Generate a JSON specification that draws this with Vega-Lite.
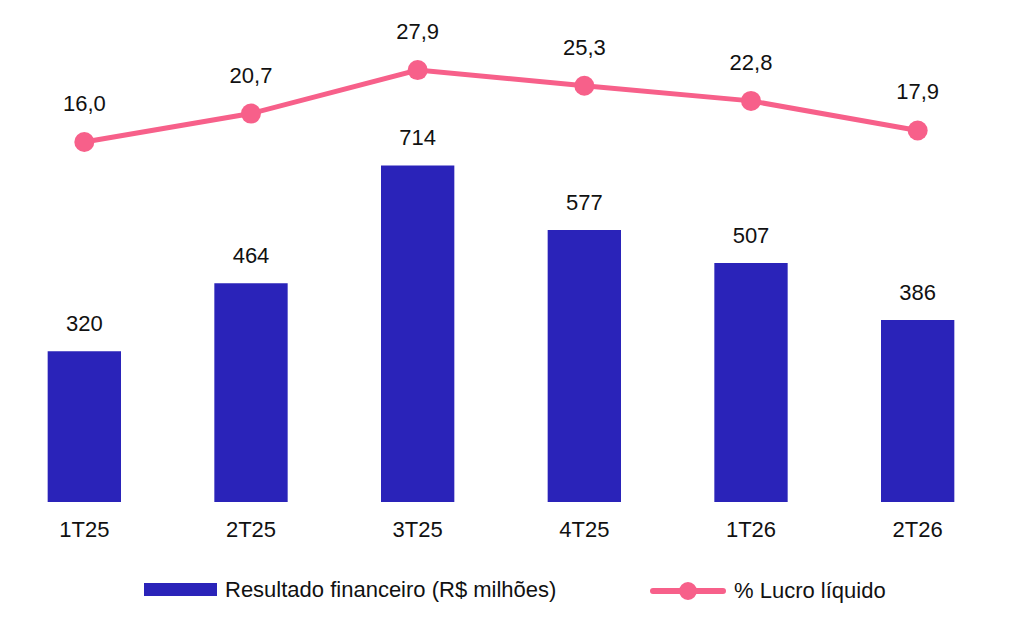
{
  "$schema": "https://vega.github.io/schema/vega-lite/v6.json",
  "width": 1000,
  "height": 502,
  "autosize": "none",
  "padding": {"left": 1, "top": 0, "right": 23, "bottom": 128},
  "background": "white",
  "data": {
    "values": [
      {"periodo": "1T25", "resultado": 320, "lucro": 16.0},
      {"periodo": "2T25", "resultado": 464, "lucro": 20.7},
      {"periodo": "3T25", "resultado": 714, "lucro": 27.9},
      {"periodo": "4T25", "resultado": 577, "lucro": 25.3},
      {"periodo": "1T26", "resultado": 507, "lucro": 22.8},
      {"periodo": "2T26", "resultado": 386, "lucro": 17.9}
    ]
  },
  "encoding": {
    "x": {
      "field": "periodo",
      "type": "nominal",
      "sort": null,
      "scale": {"paddingInner": 0.56, "paddingOuter": 0.28},
      "axis": {
        "title": null,
        "labelAngle": 0,
        "labelFontSize": 22,
        "labelColor": "#111",
        "labelPadding": 17,
        "ticks": false,
        "domain": false,
        "grid": false
      }
    }
  },
  "layer": [
    {
      "layer": [
        {
          "mark": {"type": "bar"},
          "encoding": {
            "y": {
              "field": "resultado",
              "type": "quantitative",
              "scale": {"domain": [0, 1065], "nice": false},
              "axis": null
            },
            "color": {
              "datum": "Resultado financeiro (R$ milhões)",
              "scale": {"range": ["#2A23B9"]},
              "legend": {
                "title": null,
                "orient": "none",
                "legendX": 143,
                "legendY": 553,
                "padding": 0,
                "symbolType": "M-1,-0.178 L1,-0.178 L1,0.178 L-1,0.178 Z",
                "symbolSize": 5329,
                "symbolStrokeWidth": 0,
                "labelFontSize": 22,
                "labelColor": "#111",
                "labelOffset": 8,
                "labelLimit": 0
              }
            }
          }
        },
        {
          "mark": {"type": "text", "baseline": "middle", "dy": -27, "fontSize": 22, "color": "#111"},
          "encoding": {
            "y": {"field": "resultado", "type": "quantitative"},
            "text": {"field": "resultado", "type": "quantitative", "format": "d"}
          }
        }
      ]
    },
    {
      "layer": [
        {
          "mark": {"type": "line", "strokeWidth": 5},
          "encoding": {
            "y": {
              "field": "lucro",
              "type": "quantitative",
              "scale": {"domain": [-43.6, 39.5], "nice": false, "zero": false},
              "axis": null
            },
            "stroke": {
              "datum": "% Lucro líquido",
              "scale": {"range": ["#F7608A"]},
              "legend": {
                "title": null,
                "orient": "none",
                "legendX": 649,
                "legendY": 553,
                "padding": 0,
                "symbolType": "M-1,0 L1,0 M0.17,0 A0.17,0.17 0 1,1 -0.17,0 A0.17,0.17 0 1,1 0.17,0 Z",
                "symbolSize": 4900,
                "symbolStrokeWidth": 6,
                "labelFontSize": 22,
                "labelColor": "#111",
                "labelOffset": 8,
                "labelLimit": 0,
                "encode": {
                  "symbols": {
                    "update": {
                      "fill": {"value": "#F7608A"},
                      "stroke": {"value": "#F7608A"},
                      "strokeWidth": {"value": 6},
                      "strokeCap": {"value": "round"}
                    }
                  }
                }
              }
            }
          }
        },
        {
          "mark": {"type": "circle", "size": 400, "opacity": 1, "color": "#F7608A"},
          "encoding": {
            "y": {"field": "lucro", "type": "quantitative"}
          }
        },
        {
          "mark": {"type": "text", "baseline": "middle", "dy": -38, "fontSize": 22, "color": "#111"},
          "encoding": {
            "y": {"field": "lucro", "type": "quantitative"},
            "text": {"field": "lucro", "type": "quantitative", "format": ".1f"}
          }
        }
      ]
    }
  ],
  "resolve": {"scale": {"y": "independent"}},
  "config": {
    "view": {"stroke": null},
    "font": "Liberation Sans",
    "locale": {
      "number": {"decimal": ",", "thousands": ".", "grouping": [3], "currency": ["R$", ""]}
    }
  }
}
